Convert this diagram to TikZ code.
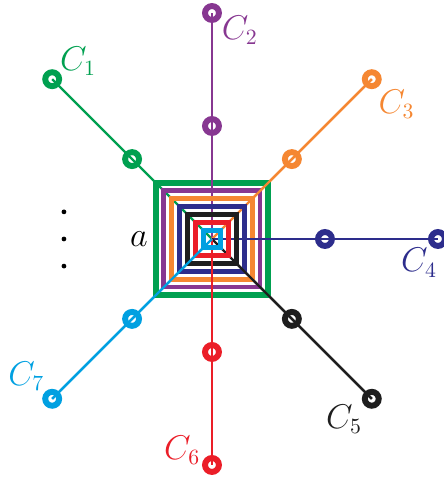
\documentclass[tikz,border=0pt]{standalone}
\usepackage{amsmath}
\usepackage{xcolor}
\usepackage{tikz}
\usetikzlibrary{positioning}
\definecolor{cgreen}{RGB}{0, 160, 80}
\definecolor{cpurple}{RGB}{135, 55, 145}
\definecolor{corange}{RGB}{245, 135, 50}
\definecolor{cnavy}{RGB}{45, 45, 140}
\definecolor{cblack}{RGB}{30, 30, 30}
\definecolor{cred}{RGB}{235, 30, 40}
\definecolor{ccyan}{RGB}{0, 160, 225}

\begin{document}
\begin{tikzpicture}[x=2cm, y=2cm,
    spoke/.style={line width=1.2pt},
    frame/.style={line width=2.5pt},
    ring/.style={draw, circle, line width=3pt, minimum size=7pt, inner sep=0pt},
    lab/.style={font=\fontsize{16}{19}\selectfont, inner sep=0pt}]
\useasboundingbox (-1.876,-2.133) rectangle (2.053,2.115);
\coordinate (o) at (0,0);

% Ring positions on the seven spokes
\coordinate (p1) at (135:2); \coordinate (q1) at (135:1);
\coordinate (p2) at (90:2);  \coordinate (q2) at (90:1);
\coordinate (p3) at (45:2);  \coordinate (q3) at (45:1);
\coordinate (p4) at (0:2);   \coordinate (q4) at (0:1);
\coordinate (p5) at (-45:2); \coordinate (q5) at (-45:1);
\coordinate (p6) at (-90:2); \coordinate (q6) at (-90:1);
\coordinate (p7) at (225:2); \coordinate (q7) at (225:1);

% Where each spoke leaves its own square
\coordinate (s1) at (135:0.700);
\coordinate (s2) at (90:0.425);
\coordinate (s3) at (45:0.502);
\coordinate (s4) at (0:0.285);
\coordinate (s5) at (-45:0.304);
\coordinate (s6) at (-90:0.145);
\coordinate (s7) at (225:0.106);

% Spokes from the centre, under the squares
\draw[spoke, cgreen]  (o) -- (p1);
\draw[spoke, cpurple] (o) -- (p2);
\draw[spoke, corange] (o) -- (p3);
\draw[spoke, cnavy]   (o) -- (p4);
\draw[spoke, cblack]  (o) -- (p5);
\draw[spoke, cred]    (o) -- (p6);
\draw[spoke, ccyan]   (o) -- (p7);

% Nested squares
\draw[frame, cgreen, line width=3pt] (-0.495,-0.495) rectangle (0.495,0.495);
\draw[frame, cpurple] (-0.425,-0.425) rectangle (0.425,0.425);
\draw[frame, corange] (-0.355,-0.355) rectangle (0.355,0.355);
\draw[frame, cnavy]   (-0.285,-0.285) rectangle (0.285,0.285);
\draw[frame, cblack]  (-0.215,-0.215) rectangle (0.215,0.215);
\draw[frame, cred]    (-0.145,-0.145) rectangle (0.145,0.145);
\draw[frame, ccyan]   (-0.075,-0.075) rectangle (0.075,0.075);

% Outer parts of the spokes, over the squares
\draw[spoke, cpurple] (s2) -- (p2);
\draw[spoke, corange] (s3) -- (p3);
\draw[spoke, cnavy]   (s4) -- (p4);
\draw[spoke, cblack]  (s5) -- (p5);
\draw[spoke, cred]    (s6) -- (p6);
\draw[spoke, ccyan]   (s7) -- (p7);

% C1
\node[ring, cgreen] (c1in) at (q1) {};
\node[ring, cgreen] (c1out) at (p1) {};
\node[lab, text=cgreen] (l1) at ([shift={(13pt,9pt)}]c1out.center) {$C_1$};

% C2
\node[ring, cpurple] (c2in) at (q2) {};
\node[ring, cpurple] (c2out) at (p2) {};
\node[lab, text=cpurple] (l2) at ([shift={(14pt,-8.5pt)}]c2out.center) {$C_2$};

% C3
\node[ring, corange] (c3in) at (q3) {};
\node[ring, corange] (c3out) at (p3) {};
\node[lab, text=corange] (l3) at ([shift={(12.5pt,-12.5pt)}]c3out.center) {$C_3$};

% C4
\node[ring, cnavy] (c4in) at (q4) {};
\node[ring, cnavy] (c4out) at (p4) {};
\node[lab, text=cnavy] (l4) at ([shift={(-9.5pt,-12pt)}]c4out.center) {$C_4$};

% C5
\node[ring, cblack] (c5in) at (q5) {};
\node[ring, cblack] (c5out) at (p5) {};
\node[lab, text=cblack] (l5) at ([shift={(-14pt,-10.5pt)}]c5out.center) {$C_5$};

% C6
\node[ring, cred] (c6in) at (q6) {};
\node[ring, cred] (c6out) at (p6) {};
\node[lab, text=cred] (l6) at ([shift={(-15pt,7.5pt)}]c6out.center) {$C_6$};

% C7
\node[ring, ccyan] (c7in) at (q7) {};
\node[ring, ccyan] (c7out) at (p7) {};
\node[lab, text=ccyan] (l7) at ([shift={(-13pt,11.5pt)}]c7out.center) {$C_7$};

% Side label and dots
\node[lab] (a) at (-0.646,0) {$a$};
\fill (-1.31,0.24) circle (1.2pt);
\fill (-1.31,0) circle (1.2pt);
\fill (-1.31,-0.24) circle (1.2pt);
\end{tikzpicture}
\end{document}
